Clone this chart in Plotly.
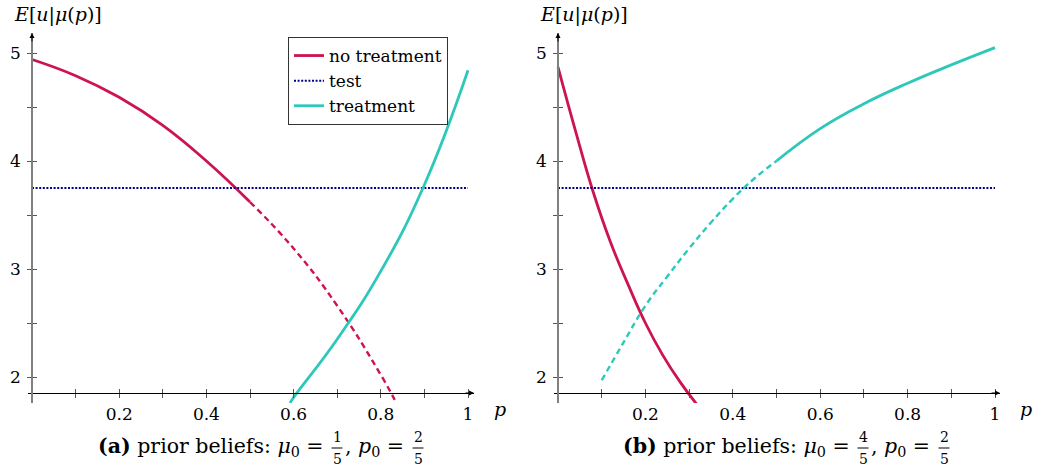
import plotly.graph_objects as go

W, H = 1042, 474
FONT = "DejaVu Serif"
RED = "#cc1450"
TEAL = "#2ec8bb"
NAVY = "#00008b"

# ---------------- data ----------------
# panel (a): prior mu0 = 1/5, p0 = 2/5
a_nt_p = [0.0, 0.1, 0.2, 0.3, 0.4, 0.5]
a_nt_v = [4.94, 4.79, 4.59, 4.33, 4.00, 3.62]
a_nt_dash_p = [0.5, 0.6, 0.7, 0.8, 0.833]
a_nt_dash_v = [3.62, 3.19, 2.66, 2.02, 1.78]
a_tr_p = [0.592, 0.6, 0.7, 0.8, 0.9, 1.0]
a_tr_v = [1.76, 1.81, 2.35, 2.98, 3.78, 4.84]
test_p = [0.0, 1.0]
test_v = [3.75, 3.75]

# panel (b): prior mu0 = 4/5, p0 = 2/5
b_nt_p = [0.0, 0.04, 0.08, 0.12, 0.16, 0.2, 0.24, 0.28, 0.321]
b_nt_v = [4.87, 4.28, 3.72, 3.25, 2.86, 2.50, 2.20, 1.95, 1.73]
b_tr_dash_p = [0.10, 0.15, 0.2, 0.25, 0.3, 0.35, 0.4, 0.45, 0.5]
b_tr_dash_v = [1.97, 2.32, 2.66, 2.93, 3.19, 3.43, 3.65, 3.84, 4.00]
b_tr_p = [0.5, 0.6, 0.7, 0.8, 0.9, 1.0]
b_tr_v = [4.00, 4.30, 4.53, 4.72, 4.89, 5.05]

x_major = [0.2, 0.4, 0.6, 0.8, 1.0]
x_major_text = ["0.2", "0.4", "0.6", "0.8", "1"]
x_minor = [0.1, 0.3, 0.5, 0.7, 0.9]
y_major = [2, 3, 4, 5]
y_minor = [2.5, 3.5, 4.5]

cap_labels = ["(a)", "(b)"]
cap_mu0 = [("1", "5"), ("4", "5")]
cap_p0 = [("2", "5"), ("2", "5")]
ytitle = "<i>E</i>[<i>u</i>|<i>μ</i>(<i>p</i>)]"
xtitle = "<i>p</i>"

# ---------------- layout geometry (pixels) ----------------
def px(x):
    return x / W

def py(y):
    return 1 - y / H

panels = [
    dict(xl=28, x0=32, xr=474, scale=436),
    dict(xl=554, x0=558, xr=1000, scale=437),
]
Y_AX = 393      # pixel of x axis line
Y_TOP = 33      # arrow tip
Y_BOT = 403     # bottom of plot area
Y5 = 53
YS = 108        # px per unit

fig = go.Figure()

def add(xs, ys, color, dash, width, name, xa, ya, show, group):
    fig.add_trace(go.Scatter(
        x=xs, y=ys, mode="lines", name=name,
        line=dict(color=color, dash=dash, width=width, shape="spline", smoothing=1.3),
        xaxis=xa, yaxis=ya, showlegend=show, legendgroup=group,
    ))

DASH = "6px,4px"
DOT = "2px,1.6px"
# panel a
add(a_nt_p, a_nt_v, RED, "solid", 2.8, "no treatment", "x", "y", True, "nt")
add(a_nt_dash_p, a_nt_dash_v, RED, DASH, 2.4, "no treatment", "x", "y", False, "nt")
add(test_p, test_v, NAVY, DOT, 2, "test", "x", "y", True, "test")
add(a_tr_p, a_tr_v, TEAL, "solid", 2.8, "treatment", "x", "y", True, "tr")
# panel b
add(b_nt_p, b_nt_v, RED, "solid", 2.8, "no treatment", "x2", "y2", False, "nt")
add(test_p, test_v, NAVY, DOT, 2, "test", "x2", "y2", False, "test")
add(b_tr_dash_p, b_tr_dash_v, TEAL, DASH, 2.4, "treatment", "x2", "y2", False, "tr")
add(b_tr_p, b_tr_v, TEAL, "solid", 2.8, "treatment", "x2", "y2", False, "tr")

yr = [5 - (Y_BOT - Y5) / YS, 5 + (Y5 - Y_TOP) / YS]
tickfont = dict(family=FONT, size=17, color="black")
layout = dict(
    width=W, height=H, margin=dict(l=0, r=0, t=0, b=0),
    plot_bgcolor="white", paper_bgcolor="white",
    showlegend=True,
    legend=dict(x=px(288), y=py(37), xanchor="left", yanchor="top",
                bgcolor="white", bordercolor="#333", borderwidth=1,
                font=dict(family=FONT, size=17, color="black"),
                tracegroupgap=0, itemwidth=30),
)
annotations = []
shapes = []

def text(x, y, s, size, xanchor="center"):
    annotations.append(dict(xref="paper", yref="paper", x=px(x), y=py(y),
                            xanchor=xanchor, yanchor="middle", text=s, showarrow=False,
                            font=dict(family=FONT, size=size, color="black")))

def frac(cx, num, den):
    text(cx, 437, num, 14)
    text(cx, 459, den, 14)
    shapes.append(dict(type="line", xref="paper", yref="paper",
                       x0=px(cx - 5.5), x1=px(cx + 5.5), y0=py(448), y1=py(448),
                       line=dict(color="black", width=1)))

for i, pn in enumerate(panels):
    sx = "" if i == 0 else "2"
    ov = 3 + 2 * i  # overlay axes index
    xr = [(pn["xl"] - pn["x0"]) / pn["scale"], (pn["xr"] - pn["x0"]) / pn["scale"]]
    layout["xaxis" + sx] = dict(
        domain=[px(pn["xl"]), px(pn["xr"])], range=xr, anchor="free", position=py(Y_AX),
        showgrid=False, zeroline=False, showline=True, linecolor="black", linewidth=1,
        tickvals=x_major, ticktext=x_major_text, ticks="outside", ticklen=4,
        tickcolor="#555", tickwidth=1, tickfont=tickfont, ticklabelstandoff=2,
        minor=dict(tickvals=x_minor, ticks="outside", ticklen=4, tickcolor="#555", tickwidth=1),
    )
    layout["yaxis" + sx] = dict(
        domain=[py(Y_BOT), py(Y_TOP)], range=yr, anchor="free", position=px(pn["x0"]),
        showgrid=False, zeroline=False, showline=True, linecolor="#808080", linewidth=1.6,
        tickvals=y_major, ticks="outside", ticklen=4,
        tickcolor="#555", tickwidth=1, tickfont=tickfont, ticklabelstandoff=3,
        minor=dict(tickvals=y_minor, ticks="outside", ticklen=4, tickcolor="#555", tickwidth=1),
    )
    # overlay axes drawing the inner half of each tick
    layout["xaxis%d" % ov] = dict(
        overlaying="x" + sx, matches="x" + sx, range=xr, anchor="free", position=py(Y_AX),
        showgrid=False, zeroline=False, showline=False, showticklabels=False,
        tickvals=x_major + x_minor, ticks="inside", ticklen=4, tickcolor="#555", tickwidth=1,
    )
    layout["yaxis%d" % ov] = dict(
        overlaying="y" + sx, range=yr, anchor="free", position=px(pn["x0"]),
        showgrid=False, zeroline=False, showline=False, showticklabels=False,
        tickvals=y_major + y_minor, ticks="inside", ticklen=4, tickcolor="#555", tickwidth=1,
    )
    # arrow heads
    annotations.append(dict(xref="paper", yref="paper", x=px(pn["xr"]), y=py(Y_AX),
                            ax=-10, ay=0, text="", showarrow=True, arrowhead=2,
                            arrowsize=1, arrowwidth=1, arrowcolor="black"))
    annotations.append(dict(xref="paper", yref="paper", x=px(pn["x0"]), y=py(Y_TOP),
                            ax=0, ay=10, text="", showarrow=True, arrowhead=2,
                            arrowsize=1, arrowwidth=1, arrowcolor="black"))
    # axis titles
    text(pn["x0"] - 20, 15, ytitle, 19, "left")
    text(pn["xr"] + 26, 409, xtitle, 19)
    # caption with stacked fractions
    x0 = pn["x0"]
    text(x0 + 294, 447, "<b>%s</b> prior beliefs: <i>μ</i><sub>0</sub> =" % cap_labels[i], 20.5, "right")
    frac(x0 + 305, *cap_mu0[i])
    text(x0 + 311, 447, ", <i>p</i><sub>0</sub> =", 20.5, "left")
    frac(x0 + 386, *cap_p0[i])

layout["annotations"] = annotations
layout["shapes"] = shapes
fig.update_layout(**layout)
# dummy traces so overlay axes are rendered
for ov in (3, 5):
    fig.add_trace(go.Scatter(x=[None], y=[None], xaxis="x%d" % ov, yaxis="y%d" % ov,
                             showlegend=False, hoverinfo="skip"))

fig.write_html("out.html")
